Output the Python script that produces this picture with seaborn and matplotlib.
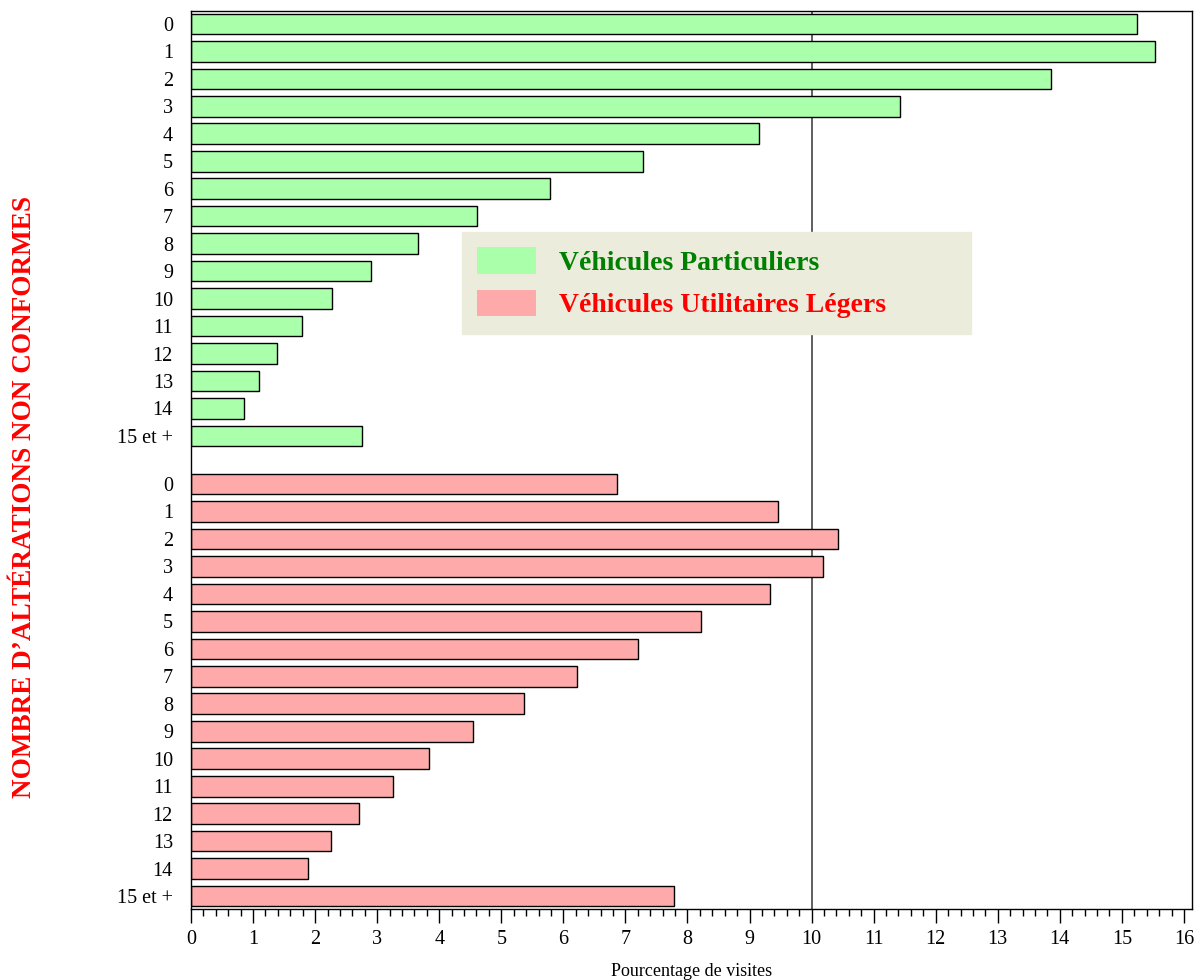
import numpy as np
import pandas as pd
import matplotlib
matplotlib.use("Agg")
import matplotlib.pyplot as plt
from matplotlib.patches import Patch
from matplotlib.ticker import MultipleLocator
import seaborn as sns

# nombre d'altérations non conformes
categories = [str(i) for i in range(15)] + ["15 et +"]
vp_values = [15.25, 15.54, 13.86, 11.42, 9.15, 7.28, 5.79, 4.61,
             3.65, 2.90, 2.27, 1.79, 1.39, 1.09, 0.85, 2.75]
vul_values = [6.86, 9.46, 10.43, 10.18, 9.33, 8.22, 7.20, 6.22,
              5.36, 4.54, 3.84, 3.25, 2.70, 2.26, 1.89, 7.79]
groups = ["Véhicules Particuliers", "Véhicules Utilitaires Légers"]
colors = ["#aaffaa", "#ffaaaa"]
text_colors = ["#008000", "#ff0000"]

gap = 16.75  # décalage du second bloc
pos_vp = np.arange(len(categories))
pos_vul = pos_vp + gap

df = pd.DataFrame({
    "pct": vp_values + vul_values,
    "pos": list(pos_vp) + list(pos_vul),
    "groupe": [groups[0]] * len(categories) + [groups[1]] * len(categories),
})

sns.set_theme(style="white")
plt.rcParams["font.family"] = ["Liberation Serif", "DejaVu Serif"]

fig = plt.figure(figsize=(11.99, 9.8), dpi=100)
ax = fig.add_axes([191 / 1199, 1 - 909 / 980, 1001 / 1199, (909 - 10.7) / 980])

sns.barplot(data=df, x="pct", y="pos", hue="groupe", orient="y", native_scale=True,
            palette=colors, saturation=1, dodge=False, width=0.75, edgecolor="black",
            linewidth=1, legend=False, ax=ax)

ax.axvline(10, color="#444444", lw=1.2, zorder=0)

ax.set_xlim(0, 16.13)
ax.set_ylim(pos_vul[-1] + 0.47, -0.48)
ax.set_yticks(list(pos_vp) + list(pos_vul))
ax.set_yticklabels(categories + categories)
ax.xaxis.set_major_locator(MultipleLocator(1))
ax.xaxis.set_minor_locator(MultipleLocator(0.2))
ax.tick_params(axis="x", which="major", direction="out", length=10, width=1,
               color="black", labelsize=14.5, labelcolor="black", pad=5, bottom=True)
ax.tick_params(axis="x", which="minor", direction="out", length=5, width=1,
               color="black", bottom=True)
ax.tick_params(axis="y", length=0, labelsize=14.5, labelcolor="black", pad=13)
for s in ax.spines.values():
    s.set_color("black")
    s.set_linewidth(1)

ax.set_ylabel("")
ax.set_xlabel("Pourcentage de visites", fontsize=13, color="black", labelpad=10)

fig.text(25 / 1199, 1 - 497 / 980, "NOMBRE D\u2019ALTÉRATIONS NON CONFORMES",
         rotation=90, ha="center", va="center", color="red",
         fontsize=19.5, fontweight="bold")

handles = [Patch(facecolor=c, edgecolor="none") for c in colors]
x0 = (462 - 191) / 1001
y1 = (909 - 232) / 898.3
h = 99 / 898.3
leg = ax.legend(handles, groups, loc="upper left", mode="expand",
                bbox_to_anchor=(x0, y1 - h, 509 / 1001, h), borderaxespad=0,
                prop={"weight": "bold", "size": 20}, frameon=True, fancybox=False,
                facecolor="#ececdc", edgecolor="#ececdc", framealpha=1,
                handlelength=2.1, handleheight=1.08, handletextpad=0.85,
                labelspacing=0.5, borderpad=0.55)
for t, c in zip(leg.get_texts(), text_colors):
    t.set_color(c)

fig.savefig("out.png", dpi=100)
